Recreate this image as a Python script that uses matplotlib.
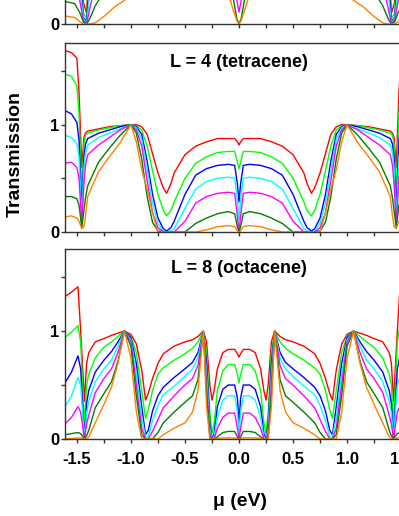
import numpy as np
import matplotlib as mpl
mpl.use('Agg')
import matplotlib.pyplot as plt
from matplotlib.ticker import MultipleLocator, FixedLocator

mpl.rcParams.update({'font.family': ['Liberation Sans', 'DejaVu Sans'],
                     'font.weight': 'bold', 'font.size': 12})

colors = ['#ff0000', '#00ff00', '#0000ff', '#00ffff', '#ff00ff', '#008000', '#ff8000']

# every curve is symmetric in mu, values are given for mu <= 0 and mirrored
# top panel (only its lower edge is visible)
x_top = [-1.61, -1.52, -1.47, -1.44, -1.41, -1.38, -1.33, -1.25, -1.15, -1.06,
         -0.9, -0.6, -0.3, -0.15, -0.08, -0.05, -0.02, 0.0]
red_top = [1.55, 1.5, 0.8, 0.2, 0.1, 0.75, 0.88, 0.94, 0.97, 0.98, 1.0, 1.0, 1.0, 0.99, 0.97, 0.93, 0.82, 0.75]
green_top = [1.25, 1.2, 0.6, 0.1, 0.05, 0.6, 0.78, 0.88, 0.92, 0.95, 0.98, 1.0, 1.0, 0.98, 0.94, 0.86, 0.7, 0.6]
blue_top = [0.95, 0.9, 0.4, 0.06, 0.02, 0.45, 0.65, 0.78, 0.85, 0.9, 0.95, 0.98, 0.98, 0.96, 0.9, 0.78, 0.55, 0.45]
cyan_top = [0.7, 0.66, 0.3, 0.05, 0.0, 0.3, 0.5, 0.65, 0.75, 0.82, 0.9, 0.95, 0.95, 0.92, 0.82, 0.65, 0.4, 0.3]
magenta_top = [0.45, 0.42, 0.2, 0.03, 0.0, 0.15, 0.35, 0.5, 0.62, 0.7, 0.8, 0.9, 0.9, 0.85, 0.7, 0.5, 0.22, 0.11]
dkgreen_top = [0.21, 0.19, 0.1, 0.02, 0.0, 0.05, 0.17, 0.3, 0.42, 0.5, 0.65, 0.8, 0.8, 0.7, 0.45, 0.22, 0.05, 0.0]
orange_top = [0.075, 0.06, 0.02, 0.0, 0.0, 0.0, 0.01, 0.07, 0.16, 0.22, 0.35, 0.55, 0.55, 0.45, 0.22, 0.12, 0.03, 0.0]

# L = 4 (tetracene)
x_l4 = [-1.61, -1.55, -1.5, -1.48, -1.455, -1.435, -1.42, -1.4, -1.3, -1.2, -1.1, -1.0,
        -0.95, -0.9, -0.85, -0.8, -0.75, -0.7, -0.67, -0.63, -0.6, -0.5, -0.4, -0.3,
        -0.2, -0.1, -0.04, -0.015, 0.0]
red_l4 = [1.69, 1.67, 1.62, 1.3, 0.6, 0.88, 0.92, 0.94, 0.96, 0.98, 0.99, 1.0,
          1.0, 0.98, 0.91, 0.73, 0.55, 0.41, 0.36, 0.45, 0.55, 0.72, 0.8, 0.84,
          0.87, 0.87, 0.87, 0.84, 0.81]
green_l4 = [1.47, 1.45, 1.36, 1.1, 0.35, 0.82, 0.9, 0.92, 0.95, 0.97, 0.99, 1.0,
            0.99, 0.95, 0.8, 0.57, 0.35, 0.2, 0.15, 0.2, 0.28, 0.5, 0.64, 0.7,
            0.74, 0.75, 0.75, 0.65, 0.59]
blue_l4 = [1.13, 1.1, 1.02, 0.85, 0.2, 0.7, 0.82, 0.87, 0.92, 0.95, 0.98, 1.0,
           0.98, 0.91, 0.66, 0.35, 0.13, 0.03, 0.01, 0.04, 0.1, 0.35, 0.53, 0.59,
           0.62, 0.63, 0.62, 0.45, 0.28]
cyan_l4 = [0.9, 0.88, 0.82, 0.7, 0.12, 0.6, 0.74, 0.81, 0.88, 0.92, 0.96, 1.0,
           0.97, 0.86, 0.58, 0.27, 0.08, 0.01, 0.0, 0.01, 0.03, 0.22, 0.4, 0.47,
           0.5, 0.51, 0.5, 0.3, 0.11]
magenta_l4 = [0.64, 0.65, 0.6, 0.5, 0.07, 0.45, 0.62, 0.72, 0.81, 0.88, 0.95, 1.0,
              0.95, 0.8, 0.48, 0.18, 0.04, 0.0, 0.0, 0.0, 0.0, 0.1, 0.27, 0.33,
              0.36, 0.37, 0.36, 0.15, 0.0]
dkgreen_l4 = [0.33, 0.33, 0.31, 0.25, 0.04, 0.2, 0.32, 0.43, 0.65, 0.78, 0.9, 1.0,
              0.92, 0.68, 0.33, 0.09, 0.01, 0.0, 0.0, 0.0, 0.0, 0.0, 0.08, 0.13,
              0.17, 0.19, 0.17, 0.05, 0.0]
orange_l4 = [0.14, 0.15, 0.13, 0.1, 0.03, 0.05, 0.15, 0.33, 0.56, 0.7, 0.83, 1.0,
             0.84, 0.58, 0.4, 0.18, 0.0, 0.0, 0.0, 0.0, 0.0, 0.0, 0.0, 0.02,
             0.05, 0.06, 0.05, 0.01, 0.0]

# L = 8 (octacene)
x_l8 = [-1.61, -1.55, -1.49, -1.465, -1.43, -1.41, -1.39, -1.33, -1.25, -1.18, -1.12,
        -1.06, -1.0, -0.95, -0.9, -0.865, -0.84, -0.8, -0.75, -0.7, -0.6, -0.5,
        -0.43, -0.38, -0.33, -0.3, -0.27, -0.25, -0.23, -0.2, -0.15, -0.1, -0.04,
        -0.015, 0.0]
red_l8 = [1.32, 1.36, 1.41, 1.0, 0.35, 0.7, 0.8, 0.9, 0.93, 0.96, 0.98,
          1.0, 0.97, 0.88, 0.64, 0.36, 0.42, 0.56, 0.7, 0.79, 0.86, 0.9,
          0.92, 0.95, 1.0, 0.9, 0.5, 0.36, 0.45, 0.65, 0.8, 0.83, 0.83,
          0.79, 0.76]
green_l8 = [0.94, 0.99, 1.05, 0.9, 0.12, 0.5, 0.6, 0.75, 0.85, 0.9, 0.95,
            1.0, 0.95, 0.8, 0.45, 0.19, 0.27, 0.45, 0.6, 0.66, 0.73, 0.79,
            0.84, 0.9, 1.0, 0.8, 0.25, 0.05, 0.15, 0.45, 0.63, 0.69, 0.69,
            0.6, 0.52]
blue_l8 = [0.52, 0.62, 0.77, 0.65, 0.0, 0.33, 0.45, 0.62, 0.73, 0.81, 0.9,
           1.0, 0.94, 0.7, 0.3, 0.04, 0.08, 0.26, 0.4, 0.48, 0.57, 0.65,
           0.71, 0.8, 1.0, 0.7, 0.15, 0.0, 0.05, 0.3, 0.46, 0.5, 0.5,
           0.38, 0.15]
cyan_l8 = [0.3, 0.4, 0.57, 0.5, 0.0, 0.24, 0.35, 0.53, 0.65, 0.73, 0.86,
           1.0, 0.92, 0.6, 0.2, 0.02, 0.02, 0.17, 0.31, 0.41, 0.49, 0.58,
           0.65, 0.75, 1.0, 0.6, 0.1, 0.0, 0.02, 0.2, 0.36, 0.4, 0.4,
           0.25, 0.05]
magenta_l8 = [0.14, 0.2, 0.3, 0.25, 0.0, 0.14, 0.22, 0.43, 0.56, 0.65, 0.8,
              1.0, 0.9, 0.5, 0.1, 0.0, 0.0, 0.07, 0.18, 0.29, 0.4, 0.5,
              0.56, 0.68, 1.0, 0.5, 0.05, 0.0, 0.0, 0.1, 0.2, 0.24, 0.24,
              0.1, 0.0]
dkgreen_l8 = [0.04, 0.05, 0.06, 0.05, 0.0, 0.03, 0.08, 0.29, 0.42, 0.53, 0.72,
              1.0, 0.86, 0.4, 0.04, 0.0, 0.0, 0.0, 0.06, 0.15, 0.25, 0.34,
              0.4, 0.55, 1.0, 0.4, 0.02, 0.0, 0.0, 0.02, 0.06, 0.07, 0.07,
              0.02, 0.0]
orange_l8 = [0.005, 0.005, 0.01, 0.01, 0.0, 0.0, 0.02, 0.15, 0.32, 0.48, 0.7,
             1.0, 0.75, 0.25, 0.0, 0.0, 0.0, 0.0, 0.0, 0.04, 0.1, 0.15,
             0.25, 0.45, 1.0, 0.3, 0.0, 0.0, 0.0, 0.005, 0.01, 0.01, 0.01,
             0.005, 0.0]

panels = [
    (x_top, [red_top, green_top, blue_top, cyan_top, magenta_top, dkgreen_top, orange_top], None),
    (x_l4, [red_l4, green_l4, blue_l4, cyan_l4, magenta_l4, dkgreen_l4, orange_l4], 'L = 4 (tetracene)'),
    (x_l8, [red_l8, green_l8, blue_l8, cyan_l8, magenta_l8, dkgreen_l8, orange_l8], 'L = 8 (octacene)'),
]


def mirror(xs, ys):
    xs = np.asarray(xs, dtype=float)
    ys = np.asarray(ys, dtype=float)
    return np.concatenate([xs, -xs[-2::-1]]), np.concatenate([ys, ys[-2::-1]])


W, H = 399, 516
fig = plt.figure(figsize=(W / 100, H / 100), dpi=100)

# panel boxes in pixels: (top, bottom); the right edge lies past the figure
boxes = [(-165, 24), (43, 232), (249, 439)]
left_px, right_px = 65, 413

for i, ((xs, curves, title), (top, bot)) in enumerate(zip(panels, boxes)):
    ax = fig.add_axes([left_px / W, 1 - bot / H, (right_px - left_px) / W, (bot - top) / H])
    for ys, c in zip(curves, colors):
        xx, yy = mirror(xs, ys)
        ax.plot(xx, yy, color=c, lw=1.0)
    ax.set_xlim(-1.61, 1.61)
    ax.set_ylim(0, 1.76)
    ax.xaxis.set_major_locator(FixedLocator([-1.5, -1.0, -0.5, 0.0, 0.5, 1.0, 1.5]))
    ax.xaxis.set_minor_locator(MultipleLocator(0.25))
    ax.yaxis.set_major_locator(FixedLocator([0, 1]))
    ax.yaxis.set_minor_locator(FixedLocator([0.5, 1.5]))
    ax.tick_params(which='both', direction='out', length=3, width=1,
                   top=False, right=False, color='#333333')
    ax.tick_params(axis='y', pad=1, labelsize=12)
    ax.tick_params(axis='x', pad=6, labelsize=12)
    ax.set_yticklabels(['0', '1'], fontweight='bold')
    if i == 2:
        ax.set_xticklabels(['-1.5', '-1.0', '-0.5', '0.0', '0.5', '1.0', '1.5'], fontweight='bold')
    else:
        ax.set_xticklabels([])
    for sp in ax.spines.values():
        sp.set_color('#333333')
        sp.set_linewidth(1.0)
    if title:
        ax.text(0.0, 0.895, title, transform=ax.get_xaxis_transform(),
                ha='center', va='center', fontsize=13, fontweight='bold')

fig.text(15 / W, 1 - 154 / H, 'Transmission', rotation=90, ha='center', va='center',
         fontsize=14, fontweight='bold')
fig.text(240 / W, 1 - 501 / H, 'μ (eV)', ha='center', va='center',
         fontsize=14, fontweight='bold')

fig.savefig('out.png', dpi=100)
